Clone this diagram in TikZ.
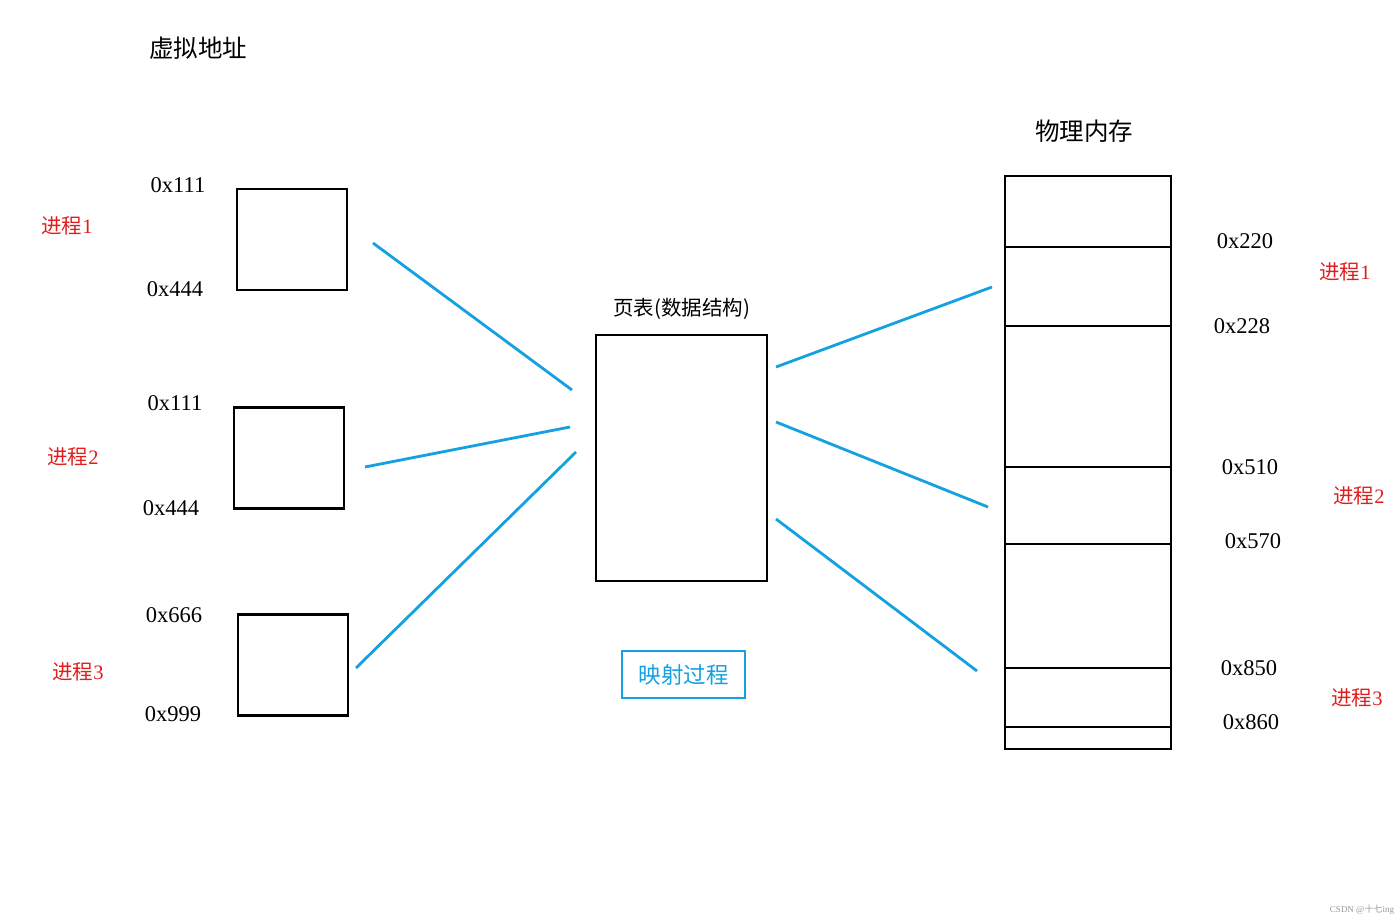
\documentclass[tikz,border=0pt]{standalone}
\usepackage{fontspec}
\setmainfont{Liberation Serif}
\newfontfamily\cjk{Noto Sans CJK SC}
\usetikzlibrary{positioning}
\definecolor{mapblue}{RGB}{20,160,225}
\definecolor{procred}{RGB}{225,30,30}
\tikzset{
  box/.style={draw, line width=2.8pt, minimum width=110pt, minimum height=101pt, inner sep=0pt},
  addr/.style={font=\fontsize{22.5}{26}\selectfont},
  proc/.style={text=procred, font=\fontsize{20.5}{24}\selectfont},
  title/.style={font=\fontsize{24.5}{28}\selectfont\cjk},
  map/.style={mapblue, line width=2.8pt}
}

\begin{document}
\begin{tikzpicture}[x=1pt, y=-1pt]
    \useasboundingbox (0,0) rectangle (1400,920);
    % Titles
    \node[title] (virt) at (198,48) {虚拟地址};
    \node[title] (phys) at (1084,131) {物理内存};
    % Process boxes (virtual address)
    \node[box] (p1) at (292,239.5) {};
    \node[box] (p2) at (289,458) {};
    \node[box] (p3) at (293,665) {};
    \node[addr] (p1top) at (178,185) {0x111};
    \node[addr] (p1bot) at (175,289) {0x444};
    \node[addr] (p2top) at (175,403) {0x111};
    \node[addr] (p2bot) at (171,508) {0x444};
    \node[addr] (p3top) at (174,615) {0x666};
    \node[addr] (p3bot) at (173,714) {0x999};
    \node[proc] (n1) at (67,226) {{\cjk 进程}1};
    \node[proc] (n2) at (73,457) {{\cjk 进程}2};
    \node[proc] (n3) at (78,672) {{\cjk 进程}3};
    % Page table
    \node[draw, line width=2.8pt, minimum width=171pt, minimum height=246pt, inner sep=0pt] (pt) at (681.5,458) {};
    \node[font=\fontsize{20.5}{24}\selectfont\cjk, above=11pt of pt] (ptlabel) {页表(数据结构)};
    \node[draw=mapblue, line width=2.8pt, text=mapblue, minimum width=123pt, minimum height=47pt,
          font=\fontsize{22.5}{26}\selectfont\cjk] (mapping) at (683.5,674.5) {映射过程};
    % Physical memory
    \draw[line width=2.8pt] (1005,176) rectangle (1171,749);
    \foreach \y in {247,326,467,544,668,727}
      \draw[line width=2.8pt] (1005,\y) -- (1171,\y);
    \node[addr] (m1) at (1245,241) {0x220};
    \node[addr] (m2) at (1242,326) {0x228};
    \node[addr] (m3) at (1250,467) {0x510};
    \node[addr] (m4) at (1253,541) {0x570};
    \node[addr] (m5) at (1249,668) {0x850};
    \node[addr] (m6) at (1251,722) {0x860};
    \node[proc] (r1) at (1345,272) {{\cjk 进程}1};
    \node[proc] (r2) at (1359,496) {{\cjk 进程}2};
    \node[proc] (r3) at (1357,698) {{\cjk 进程}3};
    % Mapping lines
    \coordinate (a1) at (373,243); \coordinate (b1) at (572,390);
    \coordinate (a2) at (365,467); \coordinate (b2) at (570,427);
    \coordinate (a3) at (356,668); \coordinate (b3) at (576,452);
    \coordinate (c1) at (776,367); \coordinate (d1) at (992,287);
    \coordinate (c2) at (776,422); \coordinate (d2) at (988,507);
    \coordinate (c3) at (776,519); \coordinate (d3) at (977,671);
    \draw[map] (a1) -- (b1);
    \draw[map] (a2) -- (b2);
    \draw[map] (a3) -- (b3);
    \draw[map] (c1) -- (d1);
    \draw[map] (c2) -- (d2);
    \draw[map] (c3) -- (d3);
    % Watermark
    \node[text=black!40, font=\fontsize{9}{10}\selectfont] (wm) at (1362,910) {CSDN @{\cjk 十七}ing};
\end{tikzpicture}
\end{document}
